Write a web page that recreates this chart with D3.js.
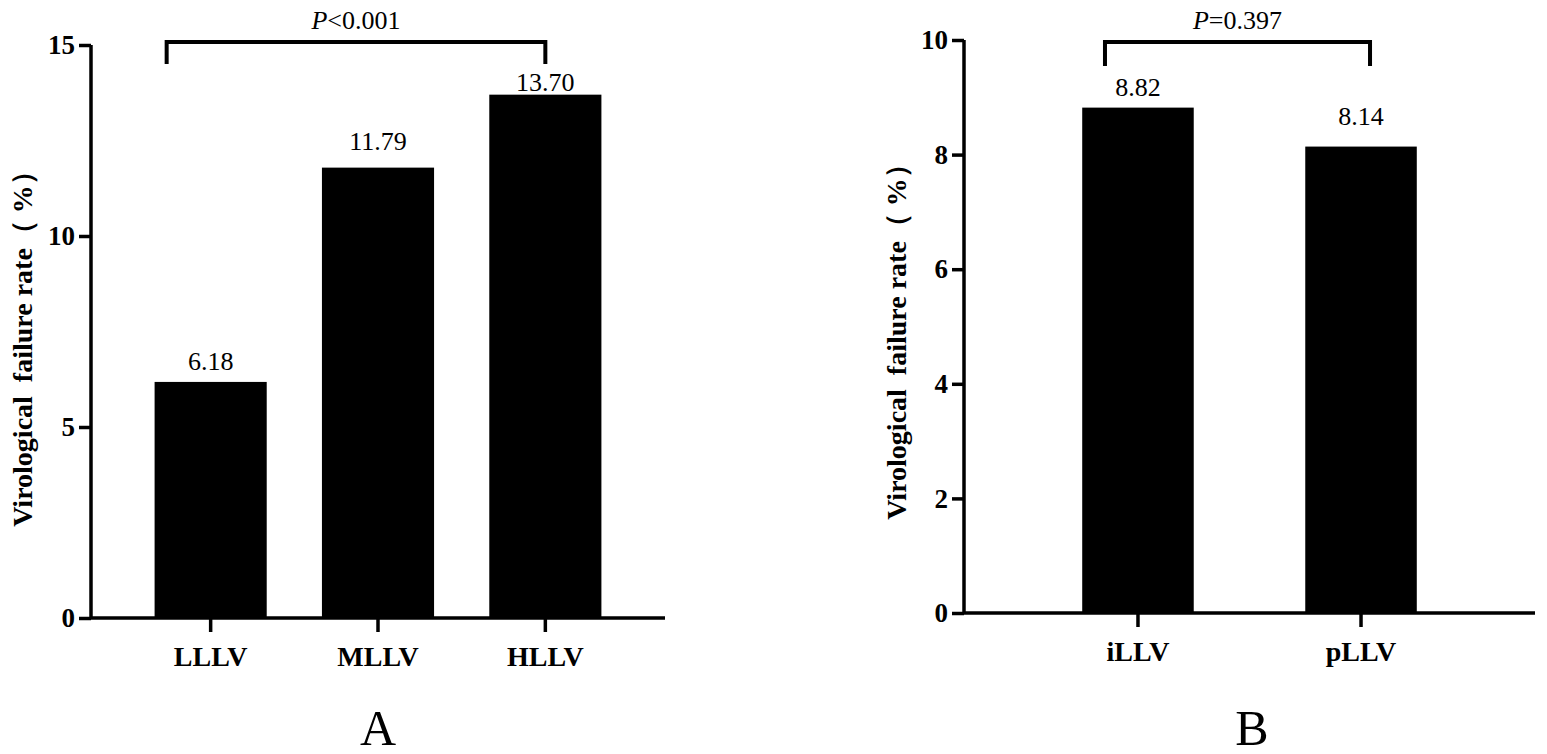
<!DOCTYPE html><html><head><meta charset="utf-8">
<script src="https://cdn.jsdelivr.net/npm/d3@7"></script>
<style>body{margin:0;background:#fff}</style></head><body>
<svg id="c" width="1547" height="754"></svg>
<script>
const catsA=["LLLV","MLLV","HLLV"], valsA=[6.18,11.79,13.70], ticksA=[0,5,10,15];
const catsB=["iLLV","pLLV"], valsB=[8.82,8.14], ticksB=[0,2,4,6,8,10];
const svg=d3.select("#c");
const serif="'Liberation Serif','Times New Roman',Times,serif";
function panel(o){
  const g=svg.append("g");
  const y=d3.scaleLinear().domain([0,o.max]).range([o.y0,o.y1]);
  const x=d3.scaleBand().domain(o.cats).range([o.ax,o.xr]).paddingInner(o.pi).paddingOuter(o.po);
  g.selectAll("rect.b").data(o.vals).join("rect").attr("x",(d,i)=>x(o.cats[i])).attr("width",x.bandwidth())
    .attr("y",d=>y(d)).attr("height",d=>o.y0-y(d)).attr("fill","#000");
  g.selectAll("text.v").data(o.vals).join("text").attr("x",(d,i)=>x(o.cats[i])+x.bandwidth()/2)
    .attr("y",(d,i)=>y(d)-o.lblOff[i]).attr("text-anchor","middle").attr("font-family",serif).attr("font-size",26).text(d=>d.toFixed(2));
  const ya=g.append("g").attr("transform",`translate(${o.ax},0)`).call(d3.axisLeft(y).tickValues(o.ticks).tickSize(12).tickPadding(4));
  ya.select(".domain").attr("stroke-width",3.5).attr("d",`M0,${o.y0}V${o.y1}`);
  ya.selectAll(".tick line").attr("stroke-width",3.5);
  ya.selectAll("text").attr("font-family",serif).attr("font-size",27).attr("font-weight","bold");
  const xa=g.append("g").attr("transform",`translate(0,${o.y0})`).call(d3.axisBottom(x).tickSize(14).tickPadding(14));
  xa.select(".domain").attr("stroke-width",3.5).attr("d",`M${o.ax},0H${o.xr}`);
  xa.selectAll(".tick line").attr("stroke-width",3.5);
  xa.selectAll("text").attr("font-family",serif).attr("font-size",28).attr("font-weight","bold");
  g.append("text").attr("transform",`translate(${o.ylx},${o.ylc}) rotate(-90)`).attr("text-anchor","middle")
    .attr("font-family",serif).attr("font-size",28).attr("font-weight","bold").attr("xml:space","preserve").text("Virological  failure rate（ %）");
  const [a,b]=o.br;
  const xa1=x(o.cats[a])+x.bandwidth()/2+o.brOff[0], xb1=x(o.cats[b])+x.bandwidth()/2+o.brOff[1];
  g.append("path").attr("d",`M${xa1},${o.brB}V${o.brT}H${xb1}V${o.brB}`).attr("fill","none").attr("stroke","#000").attr("stroke-width",4);
  const t=g.append("text").attr("x",(xa1+xb1)/2).attr("y",o.brT-13).attr("text-anchor","middle").attr("font-family",serif).attr("font-size",26);
  t.append("tspan").attr("font-style","italic").text("P");t.append("tspan").text(o.p);
  g.append("text").attr("x",o.lx).attr("y",745).attr("text-anchor","middle").attr("font-family",serif).attr("font-size",50).text(o.letter);
}
panel({cats:catsA,vals:valsA,ticks:ticksA,max:15,y0:618,y1:45,ax:91,xr:665,pi:0.33,po:0.38,lblOff:[12,18,4],ylx:32,ylc:342,br:[0,2],brOff:[-44,0],brT:42,brB:64,p:"<0.001",lx:378,letter:"A"});
panel({cats:catsB,vals:valsB,ticks:ticksB,max:10,y0:613,y1:40,ax:964,xr:1535,pi:0.5,po:0.53,lblOff:[12,22],ylx:906,ylc:335,br:[0,1],brOff:[-33,9],brT:42,brB:66,p:"=0.397",lx:1252,letter:"B"});
</script></body></html>
